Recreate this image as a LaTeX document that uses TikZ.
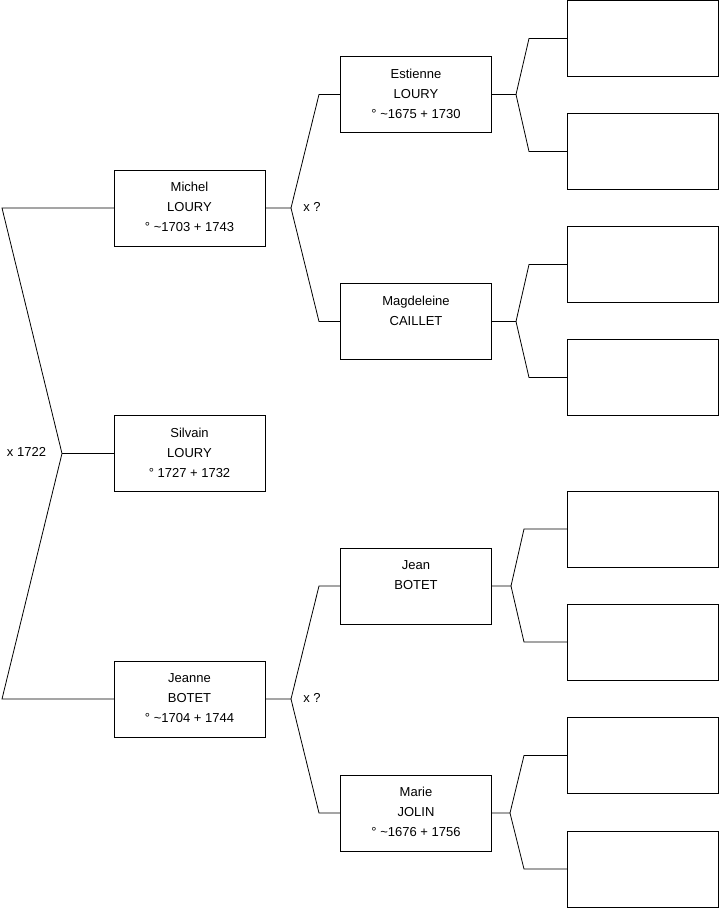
\documentclass[tikz,border=0pt]{standalone}
\usepackage{fontspec}
\setmainfont{Liberation Sans}
\newcommand\ppltext[1]{\parbox[c][76pt][t]{151pt}{\centering\fontsize{13}{20}\selectfont\baselineskip=20pt\rule{0pt}{21.8pt}#1}}
\begin{document}
\begin{tikzpicture}[x=1pt,y=-1pt,
  line width=0.8pt,
  person/.style={draw, rectangle, inner sep=0pt, outer sep=0pt},
  emptybox/.style={draw, rectangle, inner sep=0pt, outer sep=0pt, minimum width=151pt, minimum height=76pt},
  lbl/.style={font=\fontsize{13}{15}\selectfont, inner sep=0pt}]
\useasboundingbox (0,0) rectangle (719,908);
% generation 1-2
\node[person] (michel) at (189.5,208) {\ppltext{Michel\\LOURY\\° \textasciitilde1703 + 1743}};
\node[person] (silvain) at (189.5,453.5) {\ppltext{Silvain\\LOURY\\° 1727 + 1732}};
\node[person] (jeanne) at (189.5,699) {\ppltext{Jeanne\\BOTET\\° \textasciitilde1704 + 1744}};
% generation 3
\node[person] (estienne) at (416,94.5) {\ppltext{Estienne\\LOURY\\° \textasciitilde1675 + 1730}};
\node[person] (magdeleine) at (416,321.5) {\ppltext{Magdeleine\\CAILLET}};
\node[person] (jean) at (416,586) {\ppltext{Jean\\BOTET}};
\node[person] (marie) at (416,813) {\ppltext{Marie\\JOLIN\\° \textasciitilde1676 + 1756}};
% generation 4 (empty)
\node[emptybox] (e1) at (642.5,38.5) {};
\node[emptybox] (e2) at (642.5,151.5) {};
\node[emptybox] (e3) at (642.5,264.5) {};
\node[emptybox] (e4) at (642.5,377.5) {};
\node[emptybox] (e5) at (642.5,529) {};
\node[emptybox] (e6) at (642.5,642) {};
\node[emptybox] (e7) at (642.5,755.5) {};
\node[emptybox] (e8) at (642.5,869) {};
% labels
\node[lbl] (mar0) at (26.5,452) {x 1722};
\node[lbl] (mar1) at (312,207) {x ?};
\node[lbl] (mar2) at (312,698) {x ?};
% root fork
\coordinate (rA) at (2,208);
\coordinate (rM) at (62,453.5);
\coordinate (rB) at (2,699);
\draw (michel.west) -- (rA) -- (rM) -- (rB) -- (jeanne.west);
\draw (rM) -- (silvain.west);
% Michel's parents
\coordinate (mA) at (291,208);
\draw (michel.east) -- (mA) -- (319,94.5) -- (estienne.west);
\draw (mA) -- (319,321.5) -- (magdeleine.west);
% Jeanne's parents
\coordinate (jA) at (291,699);
\draw (jeanne.east) -- (jA) -- (319,586) -- (jean.west);
\draw (jA) -- (319,813) -- (marie.west);
% Estienne
\coordinate (esA) at (516,94.5);
\draw (estienne.east) -- (esA) -- (529,38.5) -- (e1.west);
\draw (esA) -- (529,151.5) -- (e2.west);
% Magdeleine
\coordinate (maA) at (516,321.5);
\draw (magdeleine.east) -- (maA) -- (529,264.5) -- (e3.west);
\draw (maA) -- (529,377.5) -- (e4.west);
% Jean
\coordinate (jnA) at (511,586);
\draw (jean.east) -- (jnA) -- (524,529) -- (e5.west);
\draw (jnA) -- (524,642) -- (e6.west);
% Marie
\coordinate (mrA) at (510,813);
\draw (marie.east) -- (mrA) -- (524,755.5) -- (e7.west);
\draw (mrA) -- (524,869) -- (e8.west);
\end{tikzpicture}
\end{document}
